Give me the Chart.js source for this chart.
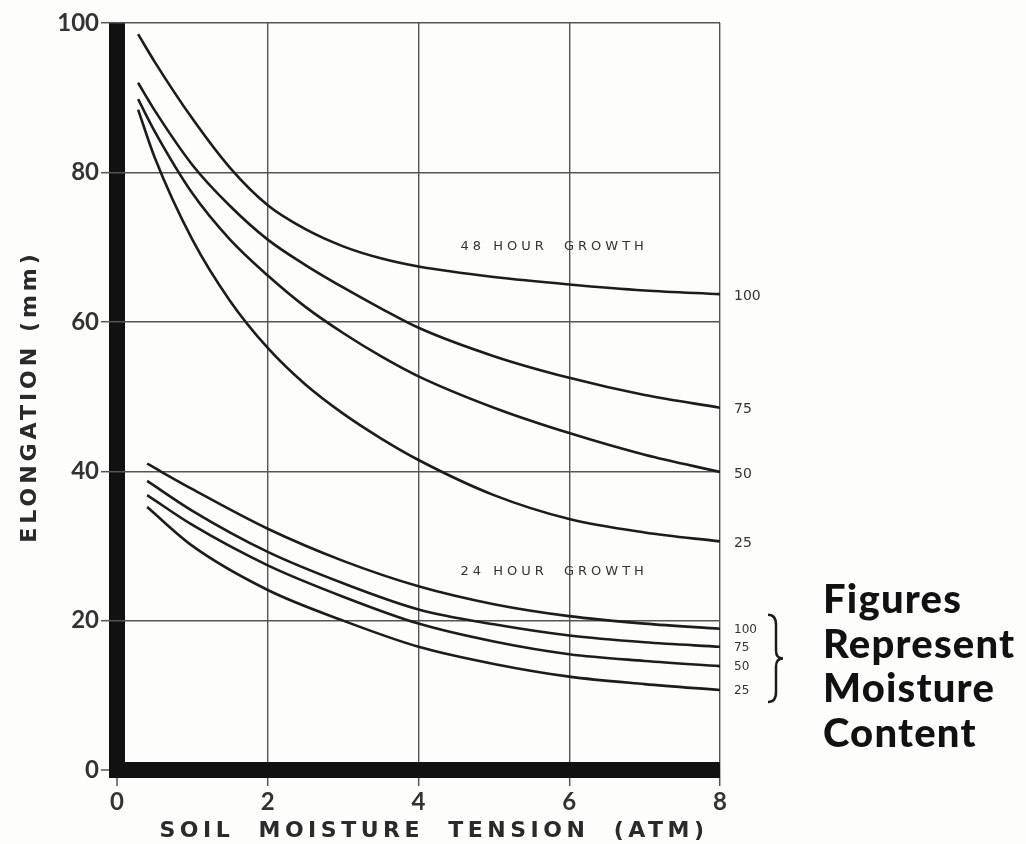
<!DOCTYPE html>
<html lang="en">
<head>
<meta charset="UTF-8">
<title>Elongation vs Soil Moisture Tension</title>
<script src="https://cdn.jsdelivr.net/npm/chart.js"></script>
<style>
    body {
        margin: 0;
        background: #fdfdfb;
    }
    #wrap {
        width: 1026px;
        height: 844px;
        position: relative;
    }
</style>
</head>
<body>
<div id="wrap"><canvas id="grafico"></canvas></div>
<script>
    // soil moisture tension (atm) where each family of curves was read
    const tension48 = [0.28, 0.5, 1, 1.5, 2, 2.5, 3, 3.5, 4, 5, 6, 7, 8];
    const tension24 = [0.4, 1, 2, 3, 4, 5, 6, 7, 8];

    // elongation (mm), 48 hour growth, by moisture content
    const h48_100 = [98.5, 94.8, 87.2, 80.6, 75.6, 72.4, 70.1, 68.5, 67.4, 66, 65, 64.2, 63.7];
    const h48_75  = [92, 88.3, 81, 75.5, 71, 67.6, 64.6, 61.8, 59.2, 55.4, 52.5, 50.2, 48.5];
    const h48_50  = [89.8, 85.5, 77.2, 71, 66.2, 62, 58.5, 55.4, 52.7, 48.5, 45.1, 42.2, 39.9];
    const h48_25  = [88.4, 82, 71, 62.8, 56.5, 51.6, 47.7, 44.4, 41.5, 36.8, 33.6, 31.8, 30.6];

    // elongation (mm), 24 hour growth, by moisture content
    const h24_100 = [41, 37.6, 32.3, 28, 24.6, 22.2, 20.6, 19.6, 18.9];
    const h24_75  = [38.7, 34.7, 29.2, 25, 21.5, 19.5, 18, 17.1, 16.5];
    const h24_50  = [36.8, 32.8, 27.4, 23.2, 19.6, 17.2, 15.5, 14.6, 13.9];
    const h24_25  = [35.2, 30, 24.1, 20, 16.5, 14.2, 12.5, 11.5, 10.7];

    const moistureTags = ['100', '75', '50', '25'];
    const xTicks = [0, 2, 4, 6, 8];
    const yTicks = [0, 20, 40, 60, 80, 100];

    const series = [
        { group: 48, tag: moistureTags[0], xs: tension48, ys: h48_100 },
        { group: 48, tag: moistureTags[1], xs: tension48, ys: h48_75 },
        { group: 48, tag: moistureTags[2], xs: tension48, ys: h48_50 },
        { group: 48, tag: moistureTags[3], xs: tension48, ys: h48_25 },
        { group: 24, tag: moistureTags[0], xs: tension24, ys: h24_100 },
        { group: 24, tag: moistureTags[1], xs: tension24, ys: h24_75 },
        { group: 24, tag: moistureTags[2], xs: tension24, ys: h24_50 },
        { group: 24, tag: moistureTags[3], xs: tension24, ys: h24_25 }
    ];

    const INK = '#1c1c1c';

    // texts, axis titles and the brace
    const anotaciones = {
        id: 'anotaciones',
        afterDraw(chart) {
            const ctx = chart.ctx;
            const xs = chart.scales.x;
            const ys = chart.scales.y;
            const area = chart.chartArea;
            ctx.save();

            // close the corner of the thick axes
            ctx.fillStyle = '#111';
            ctx.fillRect(xs.getPixelForValue(0) - 8, ys.getPixelForValue(0) - 8, 16, 16);

            // moisture labels at curve ends
            ctx.fillStyle = '#333';
            ctx.textAlign = 'left';
            ctx.textBaseline = 'middle';
            const ends24 = [];
            series.forEach((s, i) => {
                const pts = chart.getDatasetMeta(i).data;
                const last = pts[pts.length - 1];
                if (s.group === 48) {
                    ctx.font = '14px "DejaVu Sans"';
                    ctx.fillText(s.tag, last.x + 14, last.y + 2);
                } else {
                    ctx.font = '12px "DejaVu Sans"';
                    ctx.fillText(s.tag, last.x + 14, last.y + 1);
                    ends24.push(last.y);
                }
            });

            // brace for the 24 hour labels
            const bx = area.right + 48;
            const top = ends24[0] - 14;
            const bot = ends24[ends24.length - 1] + 12;
            const mid = (top + bot) / 2;
            ctx.strokeStyle = INK;
            ctx.lineWidth = 2.5;
            ctx.beginPath();
            ctx.moveTo(bx, top);
            ctx.quadraticCurveTo(bx + 8, top, bx + 8, top + 10);
            ctx.lineTo(bx + 8, mid - 8);
            ctx.quadraticCurveTo(bx + 8, mid, bx + 15, mid);
            ctx.quadraticCurveTo(bx + 8, mid, bx + 8, mid + 8);
            ctx.lineTo(bx + 8, bot - 10);
            ctx.quadraticCurveTo(bx + 8, bot, bx, bot);
            ctx.stroke();

            // group titles
            ctx.font = '13px "DejaVu Sans"';
            ctx.letterSpacing = '4px';
            ctx.textAlign = 'center';
            ctx.fillText('48 HOUR  GROWTH', xs.getPixelForValue(5.8), ys.getPixelForValue(70));
            ctx.fillText('24 HOUR  GROWTH', xs.getPixelForValue(5.8), ys.getPixelForValue(26.5));

            // axis titles
            ctx.fillStyle = '#2a2a2a';
            ctx.font = 'bold 22px "DejaVu Sans"';
            ctx.letterSpacing = '4.5px';
            ctx.fillText('SOIL  MOISTURE  TENSION  (ATM)', 434, 831);
            ctx.save();
            ctx.translate(30, (area.top + area.bottom) / 2);
            ctx.rotate(-Math.PI / 2);
            ctx.font = 'bold 22px "DejaVu Sans"';
            ctx.letterSpacing = '4px';
            ctx.fillText('ELONGATION (mm)', 0, 0);
            ctx.restore();

            // side note
            ctx.fillStyle = '#111';
            ctx.letterSpacing = '1.2px';
            ctx.textAlign = 'left';
            ctx.textBaseline = 'alphabetic';
            ctx.font = '900 40px Lato';
            const nx = area.right + 103;
            ['Figures', 'Represent', 'Moisture', 'Content'].forEach((t, k) => {
                ctx.fillText(t, nx, 613 + k * 44.7);
            });
            ctx.restore();
        }
    };

    const ctx = document.getElementById('grafico').getContext('2d');
    new Chart(ctx, {
        type: 'line',
        data: {
            datasets: series.map(s => ({
                label: s.group + ' hour growth, ' + s.tag,
                data: s.xs.map((x, i) => ({ x: x, y: s.ys[i] })),
                borderColor: INK,
                borderWidth: 2.6,
                pointRadius: 0,
                fill: false,
                cubicInterpolationMode: 'monotone'
            }))
        },
        options: {
            responsive: true,
            maintainAspectRatio: false,
            animation: false,
            layout: { padding: { top: 23, right: 306, left: 0, bottom: 0 } },
            plugins: {
                legend: { display: false },
                tooltip: { enabled: false }
            },
            scales: {
                x: {
                    type: 'linear',
                    min: 0,
                    max: 8,
                    afterFit: s => { s.height = 74; },
                    afterBuildTicks: s => { s.ticks = xTicks.map(v => ({ value: v })); },
                    border: { display: false },
                    grid: {
                        color: c => c.tick && c.tick.value === 0 ? '#111' : '#555',
                        lineWidth: c => c.tick && c.tick.value === 0 ? 16 : 1.4,
                        tickLength: 16,
                        tickWidth: 1.5,
                        tickColor: '#555'
                    },
                    ticks: {
                        padding: 2,
                        color: '#333',
                        font: { family: 'Lato', size: 24, weight: 'bold' }
                    }
                },
                y: {
                    min: 0,
                    max: 100,
                    afterFit: s => { s.width = 117; },
                    afterBuildTicks: s => { s.ticks = yTicks.map(v => ({ value: v })); },
                    border: { display: false },
                    grid: {
                        color: c => c.tick && c.tick.value === 0 ? '#111' : '#555',
                        lineWidth: c => c.tick && c.tick.value === 0 ? 16 : 1.4,
                        tickLength: 16,
                        tickWidth: 1.5,
                        tickColor: '#555'
                    },
                    ticks: {
                        padding: 2,
                        color: '#333',
                        font: { family: 'Lato', size: 24, weight: 'bold' }
                    }
                }
            }
        },
        plugins: [anotaciones]
    });
</script>
</body>
</html>
